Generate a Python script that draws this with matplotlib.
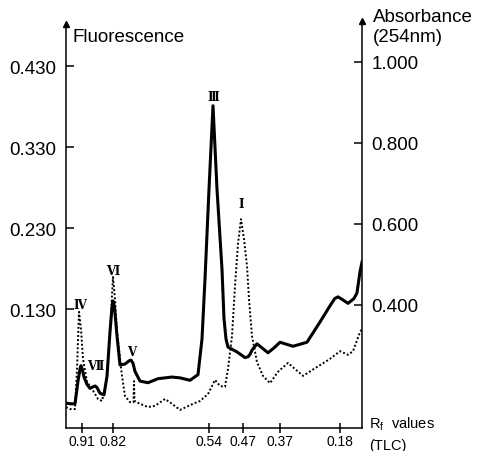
import matplotlib
matplotlib.use("Agg")
import matplotlib.pyplot as plt

# scan position along the plate (mm) and fluorescence (solid trace)
fl_x = [0.0, 1.0, 2.25, 3.0, 3.5, 3.75, 4.1, 4.5, 5.25, 6.0, 6.75, 7.25, 7.75, 8.5, 9.5,
        10.25, 11.0, 11.5, 11.75, 12.1, 12.75, 13.5, 14.75, 15.75, 16.25, 16.75, 17.25,
        18.5, 20.5, 23.0, 26.5, 28.5, 31.0, 33.0, 34.0, 34.75, 35.75, 36.75, 37.75,
        39.0, 39.5, 40.0, 40.5, 42.75, 44.75, 45.5, 46.0, 46.6, 47.75, 49.25, 50.5,
        52.0, 53.5, 56.75, 60.25, 63.5, 66.0, 67.2, 68.0, 69.0, 70.5, 72.0, 72.75,
        73.5, 74.0]
fl_y = [0.014, 0.013, 0.013, 0.041, 0.056, 0.060, 0.055, 0.046, 0.037, 0.032, 0.034,
        0.035, 0.033, 0.026, 0.024, 0.047, 0.102, 0.132, 0.140, 0.133, 0.097, 0.061,
        0.062, 0.066, 0.067, 0.063, 0.053, 0.041, 0.039, 0.044, 0.046, 0.045, 0.042,
        0.049, 0.093, 0.167, 0.278, 0.381, 0.278, 0.179, 0.118, 0.093, 0.083, 0.077,
        0.070, 0.071, 0.074, 0.080, 0.087, 0.081, 0.076, 0.082, 0.089, 0.084, 0.089,
        0.114, 0.134, 0.143, 0.145, 0.142, 0.137, 0.143, 0.150, 0.176, 0.188]

# absorbance at 254 nm (dotted trace)
ab_x = [0.0, 1.0, 2.25, 2.75, 3.25, 3.75, 4.25, 5.25, 6.5, 8.0, 9.0, 9.75, 10.25, 11.0,
        11.75, 12.25, 12.75, 14.0, 14.75, 16.0, 16.875, 17.0, 17.125, 18.5, 20.5, 22.25,
        24.75, 26.5, 28.5, 31.75, 33.5, 35.5, 37.25, 38.5, 39.75, 40.5, 41.5, 42.25,
        43.0, 43.75, 44.5, 45.25, 45.75, 46.5, 47.75, 49.25, 51.0, 53.0, 55.5, 59.25,
        62.75, 66.0, 68.5, 70.5, 71.75, 73.5, 74.0]
ab_y = [0.148, 0.143, 0.143, 0.242, 0.383, 0.341, 0.267, 0.210, 0.193, 0.168, 0.163,
        0.193, 0.225, 0.333, 0.469, 0.415, 0.333, 0.225, 0.175, 0.160, 0.160, 0.212,
        0.163, 0.156, 0.148, 0.151, 0.168, 0.156, 0.141, 0.156, 0.163, 0.180, 0.215,
        0.200, 0.198, 0.242, 0.323, 0.447, 0.551, 0.612, 0.563, 0.496, 0.415, 0.323,
        0.259, 0.225, 0.207, 0.235, 0.257, 0.225, 0.247, 0.267, 0.286, 0.277, 0.286,
        0.333, 0.341]

rf_pos = [4.0, 11.75, 35.75, 44.25, 53.5, 68.5]
rf_labels = ["0.91", "0.82", "0.54", "0.47", "0.37", "0.18"]

fl_ticks = [0.130, 0.230, 0.330, 0.430]
ab_ticks = [0.400, 0.600, 0.800, 1.000]

peak_names = ["\u2163", "\u2166", "\u2165", "\u2164", "\u2162", "\u2160"]  # IV VII VI V III I
peak_x = [3.5, 7.25, 11.75, 16.5, 36.75, 43.75]
peak_y = [0.136, 0.060, 0.177, 0.077, 0.393, 0.260]

FONT = ["Liberation Sans", "DejaVu Sans"]
plt.rcParams["font.family"] = FONT

W, H = 479, 452
fig = plt.figure(figsize=(W / 100, H / 100), dpi=100)
ax = fig.add_axes([66 / W, 1 - 429 / H, 296 / W, 404 / H])
ax2 = ax.twinx()

ax.plot(fl_x, fl_y, color="black", lw=2.2, solid_joinstyle="round", zorder=3)
ax2.plot(ab_x, ab_y, color="black", lw=1.4, linestyle=(0, (1, 1.1)), zorder=3)

ax.set_xlim(0, 74)
ax.set_ylim(-0.0169, 0.4819)
ax2.set_ylim(0.0963, 1.0938)

for a in (ax, ax2):
    a.spines["top"].set_visible(False)
    for s in a.spines.values():
        s.set_linewidth(1.1)
ax.spines["right"].set_visible(False)
ax2.spines["left"].set_visible(False)
ax2.spines["bottom"].set_visible(False)

ax.set_yticks(fl_ticks)
ax.set_yticklabels([f"{v:.3f}" for v in fl_ticks], fontsize=13.5)
ax.tick_params(axis="y", direction="in", length=6, width=1.1, pad=7)
ax2.set_yticks(ab_ticks)
ax2.set_yticklabels([f"{v:.3f}" for v in ab_ticks], fontsize=13.5)
ax2.tick_params(axis="y", direction="in", length=6, width=1.1, pad=7)

ax.set_xticks(rf_pos)
ax.set_xticklabels(rf_labels, fontsize=10)
ax.tick_params(axis="x", direction="inout", length=7, width=1.1, pad=1)

# arrow heads at top of the y axes
ax.plot([0], [1], marker="^", color="black", markersize=5, transform=ax.transAxes,
        clip_on=False)
ax.plot([1], [1.007], marker="^", color="black", markersize=5, transform=ax.transAxes,
        clip_on=False)

for name, px, py in zip(peak_names, peak_x, peak_y):
    ax.text(px, py, name, fontsize=8.5, fontweight="bold", family="DejaVu Serif",
            ha="center", va="center", zorder=4)

fig.text(73 / W, 1 - 37 / H, "Fluorescence", fontsize=13.5, ha="left", va="center")
fig.text(373 / W, 1 - 18 / H, "Absorbance", fontsize=13.5, ha="left", va="center")
fig.text(373 / W, 1 - 37 / H, "(254nm)", fontsize=13.5, ha="left", va="center")
fig.text(369 / W, 1 - 424 / H, r"R$_\mathregular{f}$  values", fontsize=10.5,
         ha="left", va="center")
fig.text(369 / W, 1 - 446 / H, "(TLC)", fontsize=10.5, ha="left", va="center")

fig.savefig("out.png", dpi=100)
